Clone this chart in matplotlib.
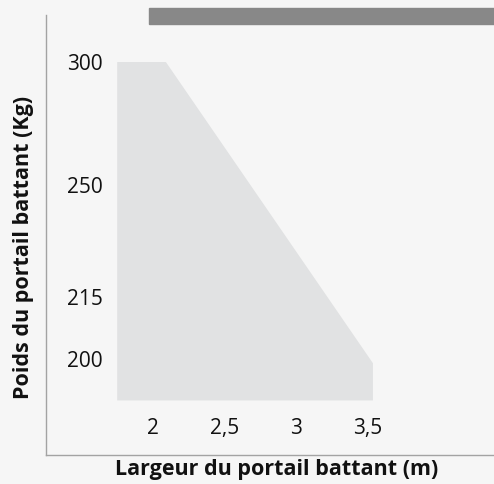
"""Gate weight vs. gate width operating range."""
import matplotlib
import matplotlib.pyplot as plt
import numpy as np

matplotlib.use("Agg")

plt.rcParams["font.family"] = ["Open Sans", "DejaVu Sans"]

BG_COLOR = "#f6f6f6"
AREA_COLOR = "#e1e2e3"
SPINE_COLOR = "#a3a3a3"
BAR_COLOR = "#888888"
TEXT_COLOR = "#111111"

# width (m) and weight (kg) outlining the allowed zone
area_width = [1.75, 2.09, 3.535, 3.535, 1.75]
area_weight = [300, 300, 199, 190, 190]

x_ticks = [2, 2.5, 3, 3.5]
x_tick_labels = ["2", "2,5", "3", "3,5"]
y_ticks = [200, 215, 250, 300]
y_tick_labels = ["200", "215", "250", "300"]

# uneven weight axis: knot values and where they sit on the axis
y_knots = [150, 200, 215, 250, 300, 350]
y_spots = [-565.7, -359, -297, -185, -62, 61]


def weight_forward(v):
    return np.interp(v, y_knots, y_spots)


def weight_inverse(p):
    return np.interp(p, y_spots, y_knots)


fig = plt.figure(figsize=(4.94, 4.84), dpi=100, facecolor=BG_COLOR)
ax = fig.add_axes([0.0931, 0.0599, 0.9069, 0.909])
ax.set_facecolor(BG_COLOR)

ax.set_yscale("function", functions=(weight_forward, weight_inverse))
ax.set_xlim(1.253, 4.38)
ax.set_ylim(176.8, 319.1)

ax.fill(area_width, area_weight, color=AREA_COLOR, linewidth=0)

ax.set_xticks(x_ticks, x_tick_labels)
ax.set_yticks(y_ticks, y_tick_labels)
ax.minorticks_off()
ax.tick_params(axis="x", length=0, pad=-27, labelsize=15, labelcolor=TEXT_COLOR)
ax.tick_params(axis="y", length=0, pad=-41, labelsize=15, labelcolor=TEXT_COLOR)

for side in ("top", "right"):
    ax.spines[side].set_visible(False)
for side in ("left", "bottom"):
    ax.spines[side].set_color(SPINE_COLOR)
    ax.spines[side].set_linewidth(1.0)

# header strip
fig.patches.append(plt.Rectangle((0.3016, 0.9504), 0.7, 0.033,
                                 transform=fig.transFigure, color=BAR_COLOR))

fig.text(23.5 / 494, 1 - 247 / 484, "Poids du portail battant (Kg)",
         rotation=90, ha="center", va="center", fontsize=15.5,
         fontweight="bold", color=TEXT_COLOR)
fig.text(277 / 494, 1 - 470 / 484, "Largeur du portail battant (m)",
         ha="center", va="center", fontsize=15.5,
         fontweight="bold", color=TEXT_COLOR)

fig.savefig("out.png", dpi=100, facecolor=BG_COLOR)
